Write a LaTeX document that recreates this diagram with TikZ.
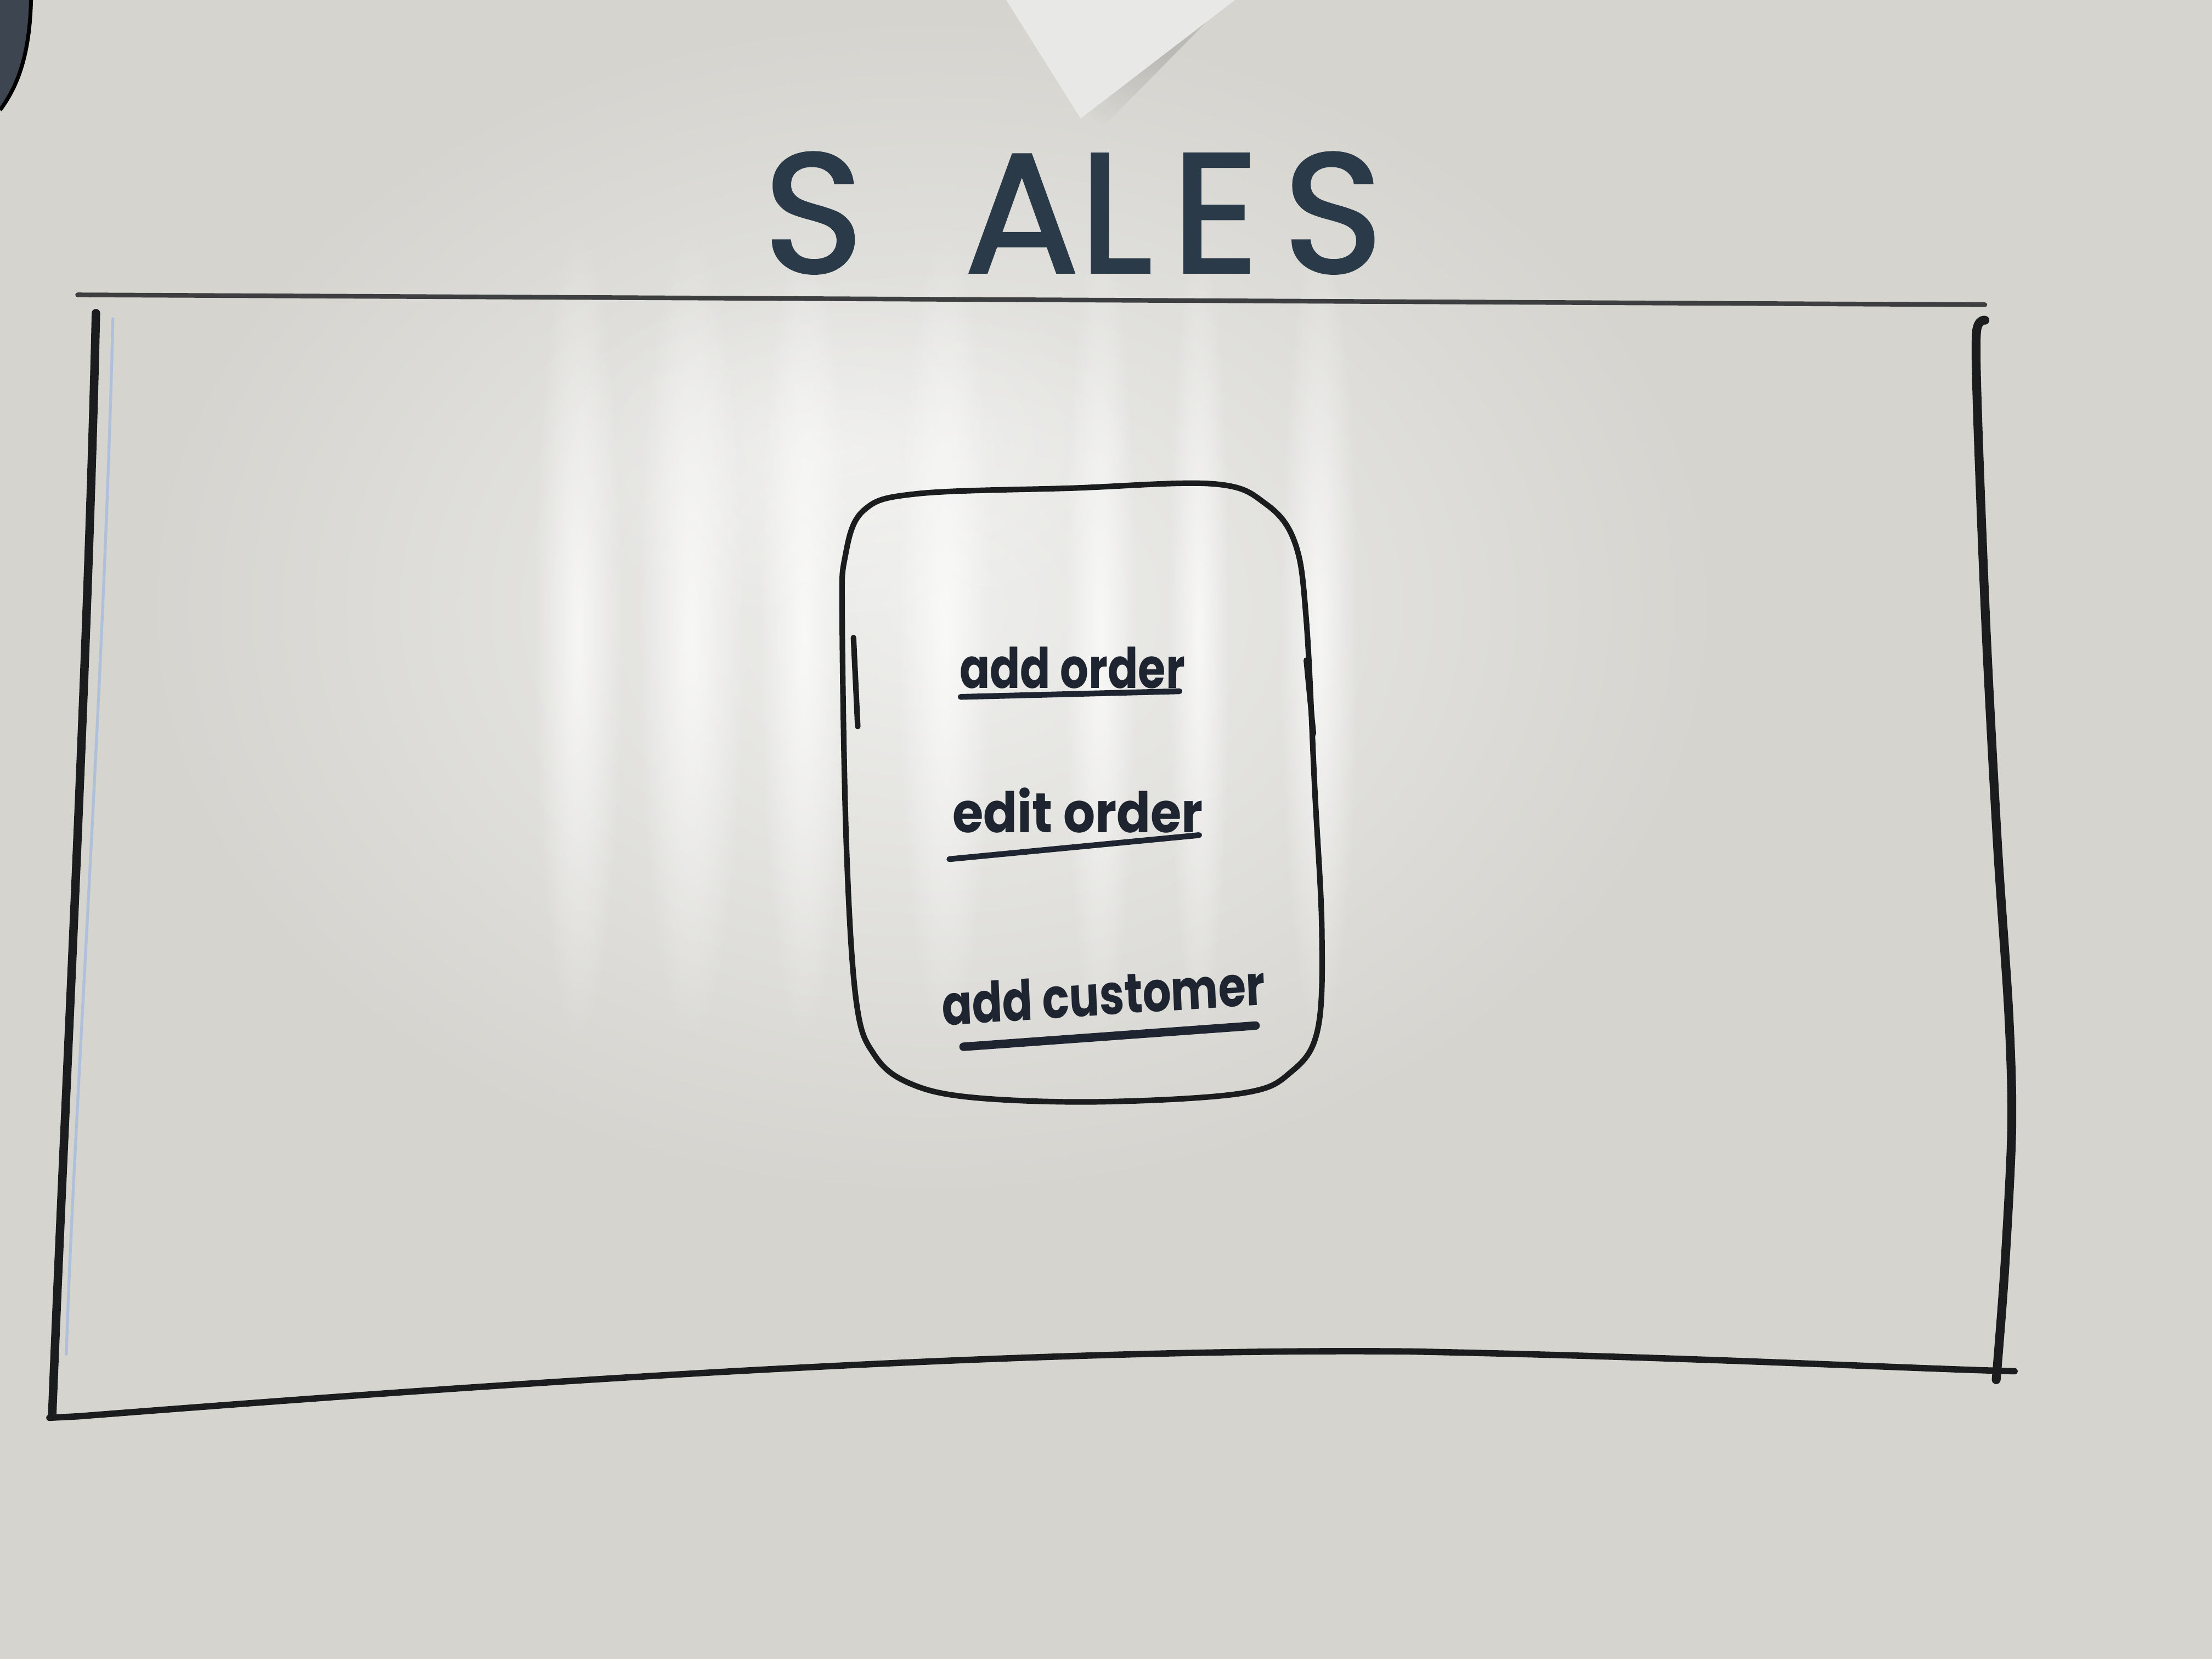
\documentclass[tikz,border=0pt]{standalone}
\usepackage{fontspec}
\setmainfont{Poppins}
\newfontfamily\titlefont[FakeBold=1.6]{Poppins}
\usetikzlibrary{fadings}
\definecolor{board}{HTML}{D5D4CF}
\definecolor{glare}{HTML}{EEEEEC}
\definecolor{ink}{HTML}{1B1C1E}
\definecolor{inkblue}{HTML}{2A3A48}
\definecolor{pen}{HTML}{1E2530}
\definecolor{faintblue}{HTML}{AFC0DA}
\definecolor{paper}{HTML}{E8E8E6}
\definecolor{gadget}{HTML}{3C4550}
\tikzfading[name=softspot, inner color=transparent!0, outer color=transparent!100]
\begin{document}
\begin{tikzpicture}[x=0.025714cm, y=-0.025714cm,
  marker/.style={draw=ink, line cap=round, line join=round},
  item/.style={anchor=base west, inner sep=0pt, text=pen,
    font=\bfseries\fontsize{29}{34}\selectfont, xscale=0.8},
  uline/.style={draw=pen, line cap=round, line width=3pt}]
% board surface and glare
\fill[board] (0,0) rectangle (1568,1176);
\useasboundingbox (0,0) rectangle (1568,1176);
\shade[inner color=glare, outer color=board] (660,430) ellipse (560 and 420);
\foreach \x/\w in {410/32, 490/38, 570/32, 670/34, 780/26, 850/22, 935/28}
  \fill[white, opacity=0.7, path fading=softspot] (\x,450) ellipse [x radius=\w, y radius=290];
\fill[white, opacity=0.4, path fading=softspot] (600,320) ellipse [x radius=220, y radius=130];
% sheet of paper at the top edge
\fill[black, opacity=0.14, path fading=softspot] (740,-40) -- (772,100) -- (910,-40) -- cycle;
\fill[paper] (712,-2) -- (766,84) -- (878,-2) -- cycle;
% dark object in the corner
\fill[gadget] (0,0) -- (22,0) .. controls (21,40) and (12,62) .. (0,78) -- cycle;
\draw[black, line width=2pt] (22,0) .. controls (21,40) and (12,62) .. (0,78);
% title
\node[font=\titlefont\fontsize{88}{94}\selectfont, text=inkblue, anchor=base west,
      inner sep=0pt] (title) at (541,193)
  {S\hspace{1.85cm}A\hspace{0cm}L\hspace{0.35cm}E\hspace{0.45cm}S};
% outer frame
\draw[marker, line width=2.4pt, draw=ink!85] (55,209) -- (1407,216);
\draw[faintblue, line width=1.5pt, line cap=round] (80,226) .. controls (74,480) and (52,800) .. (47,960);
\draw[marker, line width=4.4pt] (68,222) .. controls (62,480) and (45,800) .. (37,1003);
\draw[marker, line width=3.3pt] (35,1005) -- (55,1004) .. controls (300,985) and (700,955) .. (1000,958)
  .. controls (1200,962) and (1350,970) .. (1428,972);
\draw[marker, line width=4.6pt] plot[smooth] coordinates {(1407,227) (1401,236) (1402,300) (1408,450)
  (1416,600) (1424,720) (1426,800) (1421,900) (1415,978)};
% inner rounded box
\draw[marker, line width=2.9pt] plot[smooth cycle, tension=0.6] coordinates {(597,440) (599,395) (612,362)
  (650,350) (760,346) (860,343) (897,357) (918,385) (926,440) (932,560) (937,660) (934,730)
  (915,760) (880,775) (780,781) (690,778) (645,768) (620,748) (607,710) (600,600)};
\draw[marker, line width=2.9pt] (605,452) -- (608,515);
\draw[marker, line width=2.9pt] (926,468) -- (931,520);
% items
\node[item] (addorder) at (680,488) {add order};
\draw[uline] (681,494) -- (836,490);
\node[item, xscale=1.12] (editorder) at (675,590) {edit order};
\draw[uline] (673,609) -- (850,592);
\node[item, rotate=3] (addcust) at (668,727) {add customer};
\draw[uline, line width=4.4pt] (683,742) -- (890,727);
\end{tikzpicture}
\end{document}
